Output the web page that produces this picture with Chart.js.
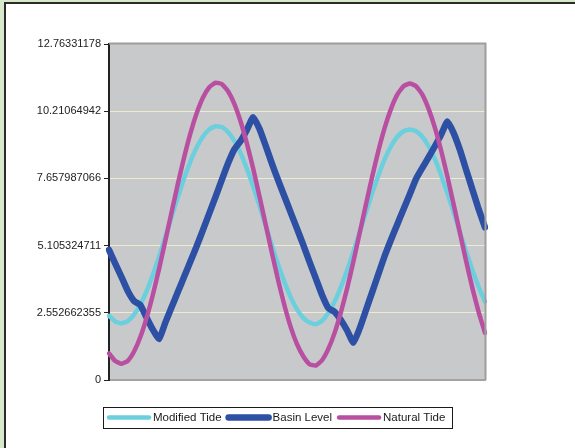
<!DOCTYPE html>
<html>
<head>
<meta charset="utf-8">
<script src="https://cdn.jsdelivr.net/npm/chart.js@4/dist/chart.umd.min.js"></script>
<style>
  html, body { margin: 0; padding: 0; }
  body { width: 575px; height: 448px; background: #d6e9cb; position: relative; overflow: hidden; }
  #frame { position: absolute; left: 4px; top: 2px; width: 571px; height: 446px; box-sizing: border-box;
           background: #ffffff; border-left: 2px solid #2b2b2b; border-top: 2px solid #2b2b2b; }
  #c { position: absolute; left: 0; top: 0; }
</style>
</head>
<body>
<div id="frame"></div>
<canvas id="c" width="575" height="448"></canvas>
<script>
const categories = ["1","2","3","4","5","6","7","8","9","10","11","12","13","14","15","16","17","18","19","20",
  "21","22","23","24","25","26","27","28","29","30","31","32","33","34","35","36","37","38","39","40",
  "41","42","43","44","45","46","47","48","49","50","51","52","53","54","55","56","57","58","59","60","61"];

const modifiedTide = [2.44,2.22,2.15,2.24,2.48,2.87,3.38,4.00,4.69,5.44,6.21,6.96,7.67,8.30,8.84,9.25,9.52,9.64,9.61,9.42,
  9.08,8.62,8.03,7.36,6.63,5.87,5.11,4.38,3.72,3.14,2.68,2.36,2.18,2.12,2.25,2.55,2.98,3.53,4.17,4.87,
  5.61,6.37,7.10,7.78,8.39,8.88,9.24,9.45,9.52,9.45,9.24,8.88,8.39,7.78,7.10,6.37,5.61,4.87,4.17,3.53,2.98];

const basinLevel = [4.94,4.42,3.91,3.38,3.00,2.85,2.37,1.91,1.56,2.19,2.77,3.35,3.93,4.51,5.09,5.70,6.33,6.96,7.60,8.23,
  8.76,9.08,9.50,9.98,9.55,8.90,8.22,7.58,6.97,6.36,5.75,5.13,4.49,3.86,3.23,2.73,2.59,2.28,1.88,1.42,
  1.96,2.65,3.34,4.03,4.72,5.33,5.91,6.49,7.06,7.64,8.06,8.46,8.88,9.32,9.82,9.38,8.74,7.98,7.23,6.48,5.80];

const naturalTide = [1.01,0.72,0.62,0.73,1.08,1.63,2.36,3.24,4.23,5.30,6.39,7.46,8.47,9.38,10.14,10.73,11.12,11.29,11.24,10.97,
  10.49,9.82,8.99,8.04,6.99,5.91,4.82,3.78,2.83,2.01,1.36,0.90,0.60,0.55,0.75,1.18,1.79,2.57,3.48,4.50,
  5.58,6.67,7.73,8.72,9.59,10.30,10.84,11.16,11.26,11.16,10.84,10.30,9.59,8.72,7.73,6.67,5.58,4.50,3.48,2.57,1.79];

const seriesNames = ["Modified Tide", "Basin Level", "Natural Tide"];
const yTickValues = [0, 2.552662355, 5.105324711, 7.657987066, 10.21064942, 12.76331178];
const yTickLabels = ["0", "2.552662355", "5.105324711", "7.657987066", "10.21064942", "12.76331178"];

const FONT = "'Liberation Sans', Arial, sans-serif";

const plotDecor = {
  id: 'plotDecor',
  beforeDraw(chart) {
    const a = chart.chartArea, ctx = chart.ctx;
    ctx.save();
    ctx.fillStyle = '#c8c9cb';
    ctx.fillRect(a.left, a.top, a.right - a.left, a.bottom - a.top);
    ctx.restore();
  },
  afterDraw(chart) {
    const a = chart.chartArea, ctx = chart.ctx;
    ctx.save();
    ctx.strokeStyle = '#9d9d9d';
    ctx.lineWidth = 2;
    ctx.beginPath();
    ctx.moveTo(a.left, a.top - 0.5);
    ctx.lineTo(a.right + 0.5, a.top - 0.5);
    ctx.lineTo(a.right + 0.5, a.bottom);
    ctx.stroke();
    // legend
    const bx = 103.5, by = 407.5, bw = 349, bh = 21;
    ctx.fillStyle = '#ffffff';
    ctx.fillRect(bx, by, bw, bh);
    ctx.strokeStyle = '#1a1a1a';
    ctx.lineWidth = 1;
    ctx.strokeRect(bx, by, bw, bh);
    ctx.font = "11.5px " + FONT;
    ctx.textBaseline = 'middle';
    ctx.textAlign = 'left';
    let x = 107;
    const cy = 417.5;
    chart.data.datasets.forEach(ds => {
      ctx.strokeStyle = ds.borderColor;
      ctx.lineWidth = ds.borderWidth;
      ctx.lineCap = 'round';
      ctx.beginPath();
      ctx.moveTo(x + 2, cy);
      ctx.lineTo(x + 42, cy);
      ctx.stroke();
      ctx.fillStyle = '#1a1a1a';
      const tx = x + 46;
      ctx.fillText(ds.label, tx, cy + 0.5);
      x = tx + ctx.measureText(ds.label).width + 5;
    });
    ctx.restore();
  }
};

const common = { pointRadius: 0, pointHoverRadius: 0, fill: false, tension: 0.15,
                 borderCapStyle: 'round', borderJoinStyle: 'round' };

new Chart(document.getElementById('c').getContext('2d'), {
  type: 'line',
  data: {
    labels: categories,
    datasets: [
      Object.assign({ label: seriesNames[0], data: modifiedTide, borderColor: '#6ccfdd', backgroundColor: '#6ccfdd', borderWidth: 4.5, order: 3 }, common),
      Object.assign({ label: seriesNames[1], data: basinLevel, borderColor: '#2d50a4', backgroundColor: '#2d50a4', borderWidth: 6.5, order: 2 }, common),
      Object.assign({ label: seriesNames[2], data: naturalTide, borderColor: '#b84fa1', backgroundColor: '#b84fa1', borderWidth: 4.5, order: 1 }, common)
    ]
  },
  options: {
    responsive: false,
    animation: false,
    devicePixelRatio: 1,
    layout: { padding: { left: 0, right: 90, top: 44, bottom: 68 } },
    plugins: { legend: { display: false }, tooltip: { enabled: false } },
    scales: {
      x: {
        type: 'category',
        offset: false,
        ticks: { display: false },
        grid: { display: false },
        border: { display: true, color: '#a3a3a3', width: 2 },
        afterFit(s) { s.height = 0; }
      },
      y: {
        min: 0,
        max: 12.76331178,
        afterBuildTicks(s) { s.ticks = yTickValues.map(v => ({ value: v })); },
        afterFit(s) { s.width = 109; },
        ticks: {
          padding: 3,
          color: '#222222',
          font: { family: FONT, size: 11 },
          callback: (v, i) => yTickLabels[i]
        },
        grid: {
          color: ctx => (ctx.index === 0 || ctx.index === yTickValues.length - 1) ? 'rgba(0,0,0,0)' : '#efebcf',
          lineWidth: 1,
          tickColor: '#222222',
          tickLength: 5,
          drawTicks: true
        },
        border: { display: true, color: '#222222', width: 2 }
      }
    }
  },
  plugins: [plotDecor]
});
</script>
</body>
</html>
